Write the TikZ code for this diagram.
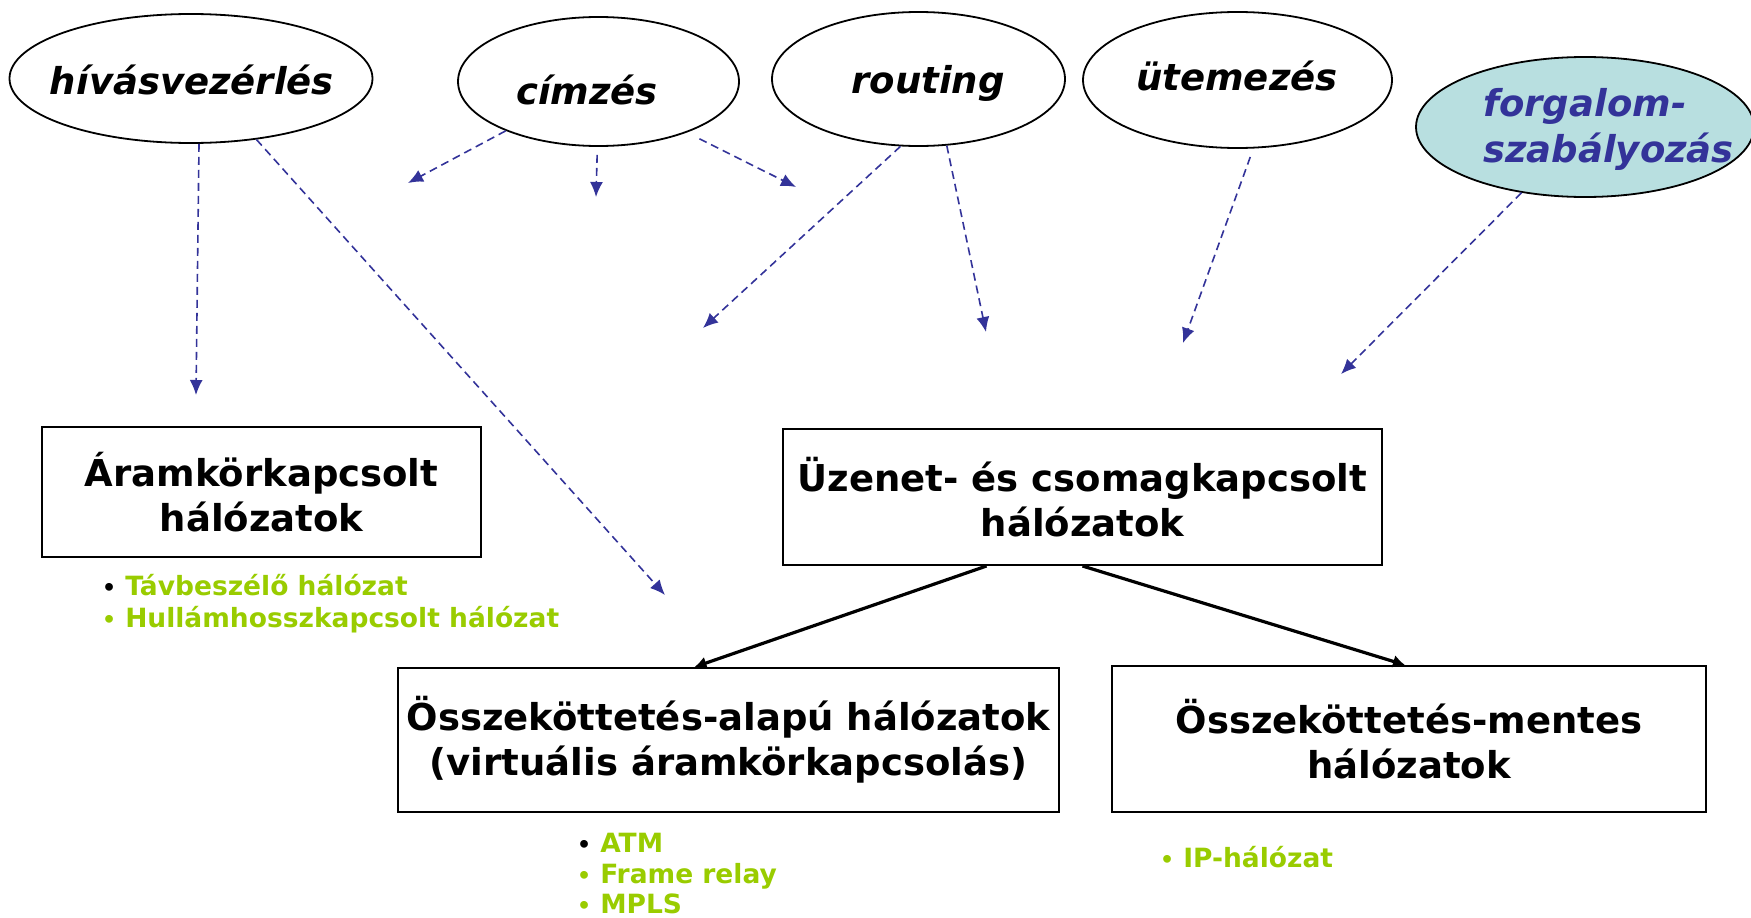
\documentclass[tikz,border=0pt]{standalone}
\usepackage{fontspec}
\setmainfont{DejaVu Sans}
\usetikzlibrary{shapes.geometric,arrows.meta}
\definecolor{dblue}{HTML}{333399}
\definecolor{lgreen}{HTML}{99CC00}
\definecolor{lteal}{HTML}{B8DFE0}
\newcommand{\bul}{{\fontsize{22}{22}\selectfont•}\hspace{9pt}}
\begin{document}
\begin{tikzpicture}[x=1pt,y=-1pt,
  ell/.style={ellipse,draw=black,line width=1.8pt,inner sep=0pt},
  lbl/.style={font=\fontsize{37}{46}\selectfont\bfseries\itshape,inner sep=0pt},
  boxn/.style={draw=black,line width=2pt,inner sep=0pt,align=center,font=\fontsize{37}{45}\selectfont\bfseries},
  dsh/.style={draw=dblue,line width=1.6pt,dash pattern=on 8pt off 5pt,-{Latex[length=15pt,width=13pt]}},
  blk/.style={draw=black,line width=3.2pt,-{Latex[length=12pt,width=13pt]}},
  itm/.style={anchor=base west,inner sep=0pt,text=lgreen,font=\fontsize{26.5}{32}\selectfont\bfseries}]
\useasboundingbox (0,0) rectangle (1751,918);

% ellipses
\node[ell,minimum width=363pt,minimum height=129pt] (hiv) at (191,78.5) {};
\node[lbl] (hivT) at (192,80) {hívásvezérlés};
\node[ell,minimum width=281pt,minimum height=129pt] (cim) at (598.5,81.5) {};
\node[lbl] (cimT) at (587,90) {címzés};
\node[ell,minimum width=293pt,minimum height=134pt] (rout) at (918.5,79) {};
\node[lbl] (routT) at (928,83) {routing};
\node[ell,minimum width=309pt,minimum height=136pt] (utem) at (1237.5,80) {};
\node[lbl] (utemT) at (1237,76) {ütemezés};
\node[ell,fill=lteal,minimum width=338pt,minimum height=140pt] (forg) at (1585,127) {};
\node[lbl,text=dblue,align=left,anchor=west] (forgT) at (1483,129) {forgalom-\\szabályozás};

% boxes
\node[boxn,minimum width=439pt,minimum height=130pt] (cs) at (261.5,492) {Áramkörkapcsolt\\hálózatok};
\node[boxn,minimum width=599pt,minimum height=136pt] (uz) at (1082.5,497) {Üzenet- és csomagkapcsolt\\hálózatok};
\node[boxn,minimum width=661pt,minimum height=144pt] (osa) at (728.5,740) {Összeköttetés-alapú hálózatok\\(virtuális áramkörkapcsolás)};
\node[boxn,minimum width=594pt,minimum height=146pt] (om) at (1409,739) {Összeköttetés-mentes\\hálózatok};

% bullet items
\node[itm] (b1) at (102,595) {\textcolor{black}{\bul}Távbeszélő hálózat};
\node[itm] (b2) at (102,627) {\bul Hullámhosszkapcsolt hálózat};
\node[itm] (a1) at (577,852) {\textcolor{black}{\bul}ATM};
\node[itm] (a2) at (577,883) {\bul Frame relay};
\node[itm] (a3) at (577,913) {\bul MPLS};
\node[itm] (ip) at (1160,867) {\bul IP-hálózat};

% free arrow ends
\coordinate (eHd) at (196,395);
\coordinate (eHx) at (665,595);
\coordinate (eCl) at (408,183);
\coordinate (eCm) at (596,197);
\coordinate (eCr) at (796,187);
\coordinate (eRl) at (703,328);
\coordinate (eRr) at (986,332);
\coordinate (eU) at (1183,343);
\coordinate (eF) at (1341,374);

\draw[dsh] (hiv.-83) -- (eHd);
\draw[dsh] (hiv.-43) -- (eHx);
\draw[dsh] (cim.-152) -- (eCl);
\draw[dsh,shorten <=8pt] (cim.-91) -- (eCm);
\draw[dsh,shorten <=14pt] (cim.-30) -- (eCr);
\draw[dsh] (rout.-105) -- (eRl);
\draw[dsh] (rout.-67) -- (eRr);
\draw[dsh,shorten <=9pt] (utem.-77) -- (eU);
\draw[dsh] (forg.-134) -- (eF);

\draw[blk] ([xshift=-96pt]uz.south) -- ([xshift=-34pt]osa.north);
\draw[blk] (uz.south) -- ([xshift=-4pt]om.north);
\end{tikzpicture}
\end{document}
